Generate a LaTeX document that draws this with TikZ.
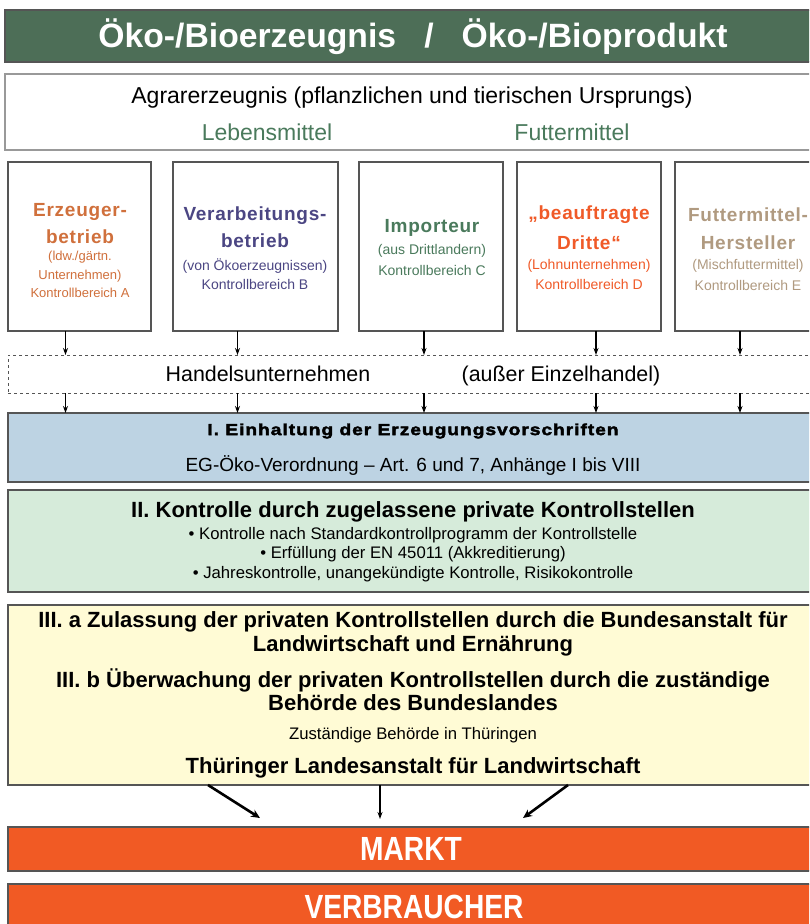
\documentclass[tikz,border=0pt]{standalone}
\usepackage{fontspec}
\setmainfont{Liberation Sans}
\newfontfamily\narrowf[FakeStretch=0.84]{Liberation Sans}
\newfontfamily\heavyf[FakeBold=2.5,FakeStretch=1.2,LetterSpace=6]{Liberation Sans}
\newfontfamily\spacedf[LetterSpace=4]{Liberation Sans}
\usetikzlibrary{arrows.meta}
\definecolor{titlegreen}{HTML}{4D6E57}
\definecolor{labgreen}{HTML}{4A7A5C}
\definecolor{colA}{HTML}{D0703C}
\definecolor{colB}{HTML}{4B4683}
\definecolor{colC}{HTML}{4A7A5C}
\definecolor{colD}{HTML}{F05A28}
\definecolor{colE}{HTML}{B09A80}
\definecolor{fillI}{HTML}{BDD3E3}
\definecolor{fillII}{HTML}{D6EBDA}
\definecolor{fillIII}{HTML}{FFFBD5}
\definecolor{orangebar}{HTML}{F15A24}
\definecolor{edge}{HTML}{555555}
\tikzset{
  box/.style={draw=edge, line width=1.2pt, inner sep=0pt, outer sep=0pt},
  big/.style={font=\spacedf\bfseries\fontsize{19}{19}\selectfont, inner sep=0pt},
  small/.style={font=\fontsize{14}{14}\selectfont, inner sep=0pt},
  arr/.style={line width=1.2pt, -{Stealth[length=7pt,width=5pt]}},
  thickarr/.style={line width=2.6pt, -{Stealth[length=9pt,width=8pt]}},
  hdr/.style={font=\bfseries\fontsize{22}{22}\selectfont, inner sep=0pt},
  txt/.style={font=\fontsize{16.7}{16.7}\selectfont, inner sep=0pt},
  mid/.style={font=\fontsize{21.4}{21.4}\selectfont, inner sep=0pt, anchor=base},
  lab/.style={font=\fontsize{23}{23}\selectfont, text=labgreen, inner sep=0pt, anchor=base},
  bartxt/.style={text=white, font=\narrowf\bfseries\fontsize{33.5}{33.5}\selectfont, inner sep=0pt},
}
\begin{document}
\begin{tikzpicture}[x=1pt,y=-1pt]
\useasboundingbox (0,0) rectangle (809,924);
\clip (0,0) rectangle (809,924);
\fill[white] (0,0) rectangle (809,924);
% title
\node[box, fill=titlegreen, minimum width=813pt, minimum height=52pt, anchor=north west] (title) at (5,10) {};
\node[text=white, font=\bfseries\fontsize{33.7}{33.7}\selectfont, inner sep=0pt] (titletxt) at (413,37) {Öko-/Bioerzeugnis\ \ \ /\ \ \ Öko-/Bioprodukt};
% Agrar
\node[box, draw=gray!80, fill=white, minimum width=813pt, minimum height=76pt, anchor=north west] (agrar) at (5,74) {};
\node[font=\fontsize{23}{23}\selectfont, inner sep=0pt, anchor=base] (agrartxt) at (412,103) {Agrarerzeugnis (pflanzlichen und tierischen Ursprungs)};
\node[lab] (leb) at (267,140) {Lebensmittel};
\node[lab] (fut) at (572,140) {Futtermittel};
% five boxes
\node[box, fill=white, minimum width=143pt, minimum height=169pt, anchor=north west] (A) at (8,162) {};
\node[box, fill=white, minimum width=165pt, minimum height=169pt, anchor=north west] (B) at (173,162) {};
\node[box, fill=white, minimum width=144pt, minimum height=169pt, anchor=north west] (C) at (359,162) {};
\node[box, fill=white, minimum width=144pt, minimum height=169pt, anchor=north west] (D) at (517,162) {};
\node[box, fill=white, minimum width=144pt, minimum height=169pt, anchor=north west] (E) at (675,162) {};
% A text
\node[big, text=colA] (a1) at (80,212) {Erzeuger-};
\node[big, text=colA] (a2) at (80,237) {betrieb};
\node[small, text=colA, font=\fontsize{13}{13}\selectfont] (a3) at (80,257) {(ldw./gärtn.};
\node[small, text=colA, font=\fontsize{13}{13}\selectfont] (a4) at (80,276) {Unternehmen)};
\node[small, text=colA, font=\fontsize{13}{13}\selectfont] (a5) at (80,293) {Kontrollbereich A};
% B text
\node[big, text=colB] (b1) at (255,216) {Verarbeitungs-};
\node[big, text=colB] (b2) at (255,241) {betrieb};
\node[small, text=colB] (b3) at (255,266) {(von Ökoerzeugnissen)};
\node[small, text=colB] (b4) at (255,284) {Kontrollbereich B};
% C text
\node[big, text=colC] (c1) at (432,228) {Importeur};
\node[small, text=colC] (c2) at (432,251) {(aus Drittlandern)};
\node[small, text=colC] (c3) at (432,270) {Kontrollbereich C};
% D text
\node[big, text=colD] (d1) at (589,215) {„beauftragte};
\node[big, text=colD] (d2) at (589,243) {Dritte“};
\node[small, text=colD] (d3) at (589,266) {(Lohnunternehmen)};
\node[small, text=colD] (d4) at (589,284) {Kontrollbereich D};
% E text
\node[big, text=colE] (e1) at (748,215) {Futtermittel-};
\node[big, text=colE] (e2) at (748,243) {Hersteller};
\node[small, text=colE] (e3) at (748,266) {(Mischfuttermittel)};
\node[small, text=colE] (e4) at (748,285) {Kontrollbereich E};
% Handel
\node[draw=edge, dashed, line width=0.8pt, fill=white, minimum width=810pt, minimum height=38pt, anchor=north west, inner sep=0pt, outer sep=0pt] (H) at (8,355) {};
\node[mid] (h1) at (268,381) {Handelsunternehmen};
\node[mid] (h2) at (561,381) {(außer Einzelhandel)};
% Box I
\node[box, fill=fillI, minimum width=810pt, minimum height=69pt, anchor=north west] (I) at (8,413) {};
\node[font=\heavyf\bfseries\fontsize{16}{16}\selectfont, inner sep=0pt] (i1) at (413,431) {I. Einhaltung der Erzeugungsvorschriften};
\node[font=\fontsize{19}{19}\selectfont, inner sep=0pt] (i2) at (413,466) {EG-Öko-Verordnung – Art. 6 und 7, Anhänge I bis VIII};
% arrows boxes -> Handel -> I
\foreach \n/\dx in {A/-14, B/-18, C/-7, D/7, E/-7}{
  \draw[arr] ([xshift=\dx pt]\n.south) -- ([xshift=\dx pt]\n.south |- H.north);
  \draw[arr] ([xshift=\dx pt]\n.south |- H.south) -- ([xshift=\dx pt]\n.south |- I.north);
}
% Box II
\node[box, fill=fillII, minimum width=810pt, minimum height=102pt, anchor=north west] (II) at (8,490) {};
\node[hdr] (ii1) at (413,512) {II. Kontrolle durch zugelassene private Kontrollstellen};
\node[txt] (ii2) at (413,535) {• Kontrolle nach Standardkontrollprogramm der Kontrollstelle};
\node[txt] (ii3) at (413,554) {• Erfüllung der EN 45011 (Akkreditierung)};
\node[txt] (ii4) at (413,574) {• Jahreskontrolle, unangekündigte Kontrolle, Risikokontrolle};
% Box III
\node[box, fill=fillIII, minimum width=810pt, minimum height=180pt, anchor=north west] (III) at (8,605) {};
\node[hdr] (iii1) at (413,622) {III. a Zulassung der privaten Kontrollstellen durch die Bundesanstalt für};
\node[hdr] (iii2) at (413,646) {Landwirtschaft und Ernährung};
\node[hdr] (iii3) at (413,680) {III. b Überwachung der privaten Kontrollstellen durch die zuständige};
\node[hdr] (iii4) at (413,703) {Behörde des Bundeslandes};
\node[txt] (iii5) at (413,735) {Zuständige Behörde in Thüringen};
\node[hdr] (iii6) at (413,768) {Thüringer Landesanstalt für Landwirtschaft};
% Markt & Verbraucher
\node[box, fill=orangebar, minimum width=810pt, minimum height=44pt, anchor=north west] (M) at (8,827) {};
\node[bartxt] (mt) at (411,849) {MARKT};
\node[box, fill=orangebar, minimum width=810pt, minimum height=50pt, anchor=north west] (V) at (8,884) {};
\node[bartxt] (vt) at (414,907) {VERBRAUCHER};
% bottom arrows
\coordinate (l0) at (208,785);
\coordinate (r0) at (568,785);
\draw[thickarr] (l0) -- ([xshift=-153pt,yshift=9pt]M.north);
\draw[arr, line width=1.6pt] (III.south -| 380,0) -- ([yshift=8pt]M.north -| 380,0);
\draw[thickarr] (r0) -- ([xshift=110pt,yshift=9pt]M.north);
\end{tikzpicture}
\end{document}
